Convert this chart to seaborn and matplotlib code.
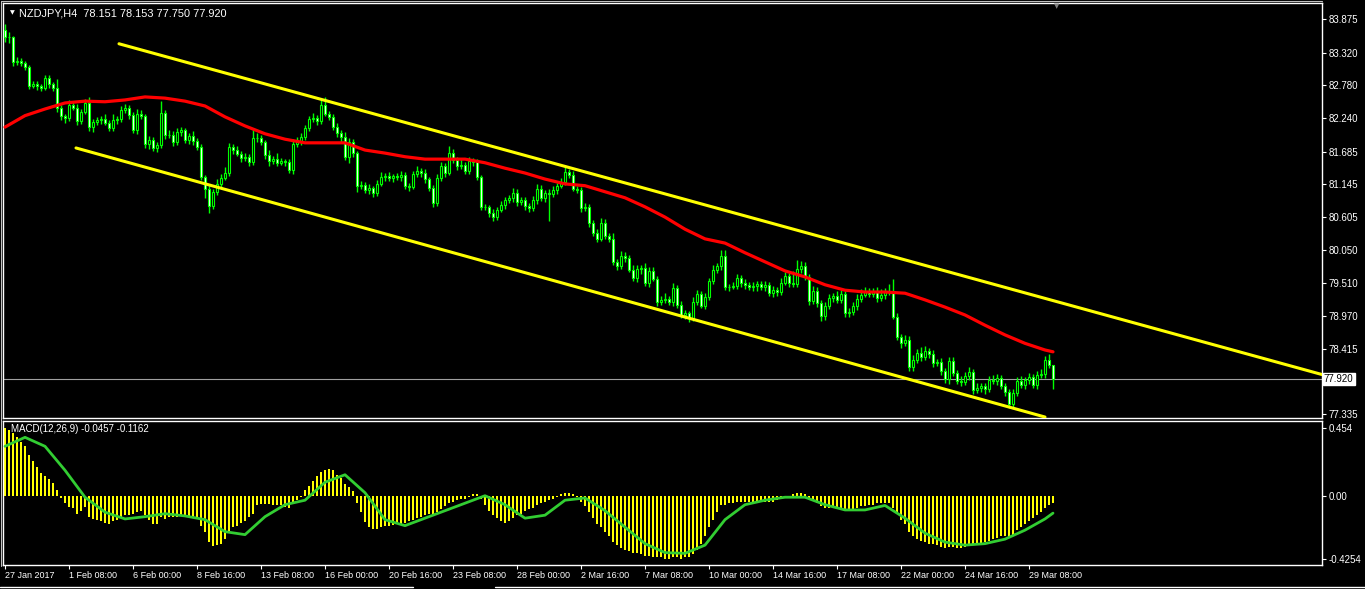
import matplotlib
matplotlib.use("Agg")
import matplotlib.pyplot as plt
import matplotlib.transforms as mtransforms
from matplotlib.lines import Line2D
import numpy as np
import pandas as pd
import seaborn as sns

# NZDJPY H4 closes, bar 0 = 27 Jan 2017 16:00
first_open = 83.70
closes = [
    83.58, 83.58, 83.17, 83.19, 83.15, 83.09, 82.77, 82.80, 82.77, 82.74,
    82.90, 82.80, 82.74, 82.41, 82.27, 82.24, 82.46, 82.41, 82.19, 82.34,
    82.49, 82.09, 82.18, 82.21, 82.22, 82.16, 82.08, 82.21, 82.22, 82.37,
    82.41, 82.29, 82.04, 82.31, 82.27, 81.81, 81.88, 81.74, 81.79, 82.32,
    81.96, 81.96, 81.84, 82.01, 82.04, 81.88, 81.94, 81.86, 81.76, 81.26,
    81.07, 80.79, 81.02, 81.15, 81.25, 81.33, 81.76, 81.71, 81.65, 81.58,
    81.60, 81.51, 81.91, 81.91, 81.84, 81.63, 81.53, 81.56, 81.50, 81.53,
    81.51, 81.38, 81.81, 81.84, 81.93, 82.08, 82.22, 82.24, 82.19, 82.46,
    82.31, 82.26, 82.09, 81.99, 81.93, 81.60, 81.84, 81.66, 81.12, 81.13,
    81.05, 81.08, 81.00, 81.15, 81.26, 81.28, 81.25, 81.28, 81.26, 81.30,
    81.12, 81.10, 81.31, 81.36, 81.33, 81.23, 81.08, 80.83, 81.25, 81.45,
    81.33, 81.66, 81.55, 81.45, 81.46, 81.36, 81.53, 81.51, 81.26, 80.77,
    80.76, 80.67, 80.60, 80.72, 80.80, 80.88, 80.92, 81.00, 80.85, 80.88,
    80.78, 80.75, 80.88, 81.07, 80.92, 81.00, 80.98, 81.05, 81.12, 81.18,
    81.35, 81.30, 81.07, 81.05, 80.75, 80.77, 80.50, 80.34, 80.24, 80.50,
    80.29, 80.24, 79.86, 79.79, 79.96, 79.92, 79.73, 79.59, 79.74, 79.76,
    79.51, 79.71, 79.58, 79.20, 79.23, 79.25, 79.20, 79.43, 79.15, 78.98,
    79.01, 78.93, 79.20, 79.33, 79.13, 79.28, 79.54, 79.73, 79.79, 79.96,
    79.44, 79.45, 79.46, 79.59, 79.51, 79.48, 79.44, 79.46, 79.49, 79.44,
    79.48, 79.34, 79.39, 79.36, 79.51, 79.63, 79.51, 79.49, 79.74, 79.79,
    79.61, 79.21, 79.38, 79.18, 78.96, 79.13, 79.26, 79.30, 79.23, 79.33,
    79.01, 79.03, 79.13, 79.25, 79.31, 79.36, 79.33, 79.36, 79.26, 79.31,
    79.36, 79.38, 78.95, 78.62, 78.52, 78.57, 78.12, 78.23, 78.35, 78.28,
    78.38, 78.33, 78.18, 78.20, 78.05, 77.92, 78.22, 78.02, 77.89, 77.87,
    77.97, 78.04, 77.74, 77.77, 77.80, 77.75, 77.90, 77.89, 77.94, 77.80,
    77.70, 77.51, 77.69, 77.89, 77.82, 77.90, 77.95, 77.82, 77.99, 78.00,
    78.23, 78.15, 77.92,
]
# upper / lower shadow lengths beyond the body
wick_up = [
    0.10, 0.08, 0.02, 0.06, 0.05, 0.04, 0.03, 0.06, 0.05, 0.04,
    0.05, 0.06, 0.04, 0.15, 0.05, 0.03, 0.08, 0.06, 0.07, 0.05,
    0.07, 0.10, 0.04, 0.05, 0.06, 0.08, 0.04, 0.10, 0.05, 0.07,
    0.06, 0.04, 0.05, 0.08, 0.06, 0.04, 0.07, 0.05, 0.06, 0.20,
    0.05, 0.08, 0.06, 0.07, 0.05, 0.04, 0.06, 0.08, 0.05, 0.05,
    0.04, 0.06, 0.05, 0.08, 0.07, 0.10, 0.06, 0.05, 0.07, 0.04,
    0.06, 0.05, 0.15, 0.08, 0.05, 0.04, 0.08, 0.06, 0.10, 0.05,
    0.04, 0.06, 0.08, 0.09, 0.07, 0.05, 0.06, 0.08, 0.05, 0.10,
    0.13, 0.05, 0.04, 0.06, 0.05, 0.08, 0.07, 0.05, 0.04, 0.06,
    0.05, 0.07, 0.04, 0.06, 0.08, 0.05, 0.06, 0.04, 0.05, 0.07,
    0.05, 0.04, 0.06, 0.08, 0.05, 0.06, 0.04, 0.05, 0.07, 0.06,
    0.05, 0.12, 0.06, 0.04, 0.10, 0.05, 0.07, 0.05, 0.06, 0.04,
    0.05, 0.04, 0.06, 0.05, 0.07, 0.06, 0.05, 0.08, 0.06, 0.05,
    0.06, 0.05, 0.07, 0.08, 0.06, 0.05, 0.06, 0.07, 0.05, 0.06,
    0.12, 0.05, 0.06, 0.04, 0.05, 0.06, 0.04, 0.05, 0.06, 0.08,
    0.07, 0.05, 0.10, 0.05, 0.08, 0.06, 0.05, 0.07, 0.06, 0.05,
    0.08, 0.06, 0.07, 0.05, 0.06, 0.09, 0.05, 0.08, 0.05, 0.06,
    0.05, 0.04, 0.08, 0.06, 0.05, 0.07, 0.06, 0.08, 0.05, 0.10,
    0.10, 0.05, 0.06, 0.07, 0.05, 0.06, 0.05, 0.07, 0.06, 0.05,
    0.06, 0.05, 0.07, 0.06, 0.08, 0.06, 0.05, 0.20, 0.15, 0.08,
    0.07, 0.05, 0.08, 0.06, 0.05, 0.07, 0.06, 0.05, 0.08, 0.07,
    0.05, 0.06, 0.07, 0.08, 0.10, 0.09, 0.07, 0.06, 0.08, 0.10,
    0.07, 0.12, 0.20, 0.06, 0.05, 0.07, 0.06, 0.08, 0.07, 0.10,
    0.08, 0.06, 0.07, 0.05, 0.06, 0.05, 0.07, 0.06, 0.05, 0.08,
    0.06, 0.08, 0.05, 0.09, 0.06, 0.05, 0.07, 0.08, 0.06, 0.05,
    0.06, 0.05, 0.07, 0.06, 0.08, 0.06, 0.07, 0.05, 0.06, 0.08,
    0.07, 0.10, 0.003,
]
wick_dn = [
    0.08, 0.10, 0.06, 0.05, 0.04, 0.06, 0.05, 0.04, 0.07, 0.05,
    0.04, 0.06, 0.05, 0.07, 0.06, 0.08, 0.05, 0.04, 0.06, 0.05,
    0.04, 0.06, 0.08, 0.05, 0.07, 0.04, 0.06, 0.05, 0.07, 0.05,
    0.04, 0.06, 0.05, 0.07, 0.05, 0.06, 0.08, 0.05, 0.07, 0.04,
    0.06, 0.05, 0.07, 0.04, 0.06, 0.05, 0.07, 0.06, 0.05, 0.04,
    0.15, 0.13, 0.06, 0.05, 0.07, 0.04, 0.05, 0.06, 0.04, 0.07,
    0.05, 0.06, 0.04, 0.07, 0.05, 0.06, 0.08, 0.05, 0.06, 0.04,
    0.06, 0.05, 0.07, 0.05, 0.04, 0.06, 0.05, 0.04, 0.06, 0.05,
    0.04, 0.06, 0.05, 0.07, 0.08, 0.06, 0.10, 0.07, 0.10, 0.06,
    0.05, 0.07, 0.06, 0.05, 0.04, 0.06, 0.05, 0.07, 0.04, 0.06,
    0.05, 0.06, 0.04, 0.05, 0.07, 0.06, 0.05, 0.06, 0.04, 0.05,
    0.06, 0.04, 0.05, 0.07, 0.06, 0.05, 0.04, 0.06, 0.05, 0.06,
    0.05, 0.06, 0.07, 0.05, 0.04, 0.06, 0.05, 0.07, 0.06, 0.05,
    0.06, 0.07, 0.05, 0.06, 0.05, 0.07, 0.45, 0.05, 0.06, 0.04,
    0.05, 0.06, 0.04, 0.05, 0.06, 0.05, 0.07, 0.05, 0.06, 0.04,
    0.05, 0.06, 0.05, 0.07, 0.05, 0.06, 0.04, 0.05, 0.06, 0.08,
    0.05, 0.06, 0.04, 0.07, 0.05, 0.06, 0.05, 0.07, 0.06, 0.05,
    0.06, 0.07, 0.05, 0.06, 0.04, 0.05, 0.06, 0.04, 0.05, 0.06,
    0.05, 0.06, 0.04, 0.05, 0.06, 0.07, 0.05, 0.06, 0.08, 0.05,
    0.06, 0.05, 0.07, 0.06, 0.05, 0.04, 0.06, 0.05, 0.04, 0.06,
    0.05, 0.06, 0.05, 0.07, 0.08, 0.06, 0.05, 0.07, 0.06, 0.05,
    0.06, 0.07, 0.05, 0.06, 0.05, 0.04, 0.06, 0.05, 0.07, 0.05,
    0.06, 0.05, 0.04, 0.06, 0.08, 0.05, 0.06, 0.07, 0.05, 0.06,
    0.05, 0.07, 0.06, 0.05, 0.07, 0.06, 0.08, 0.05, 0.06, 0.07,
    0.05, 0.06, 0.07, 0.05, 0.06, 0.08, 0.05, 0.06, 0.07, 0.05,
    0.06, 0.07, 0.05, 0.06, 0.05, 0.07, 0.06, 0.05, 0.07, 0.05,
    0.06, 0.05, 0.17,
]

# red moving average, read every 5 bars
ma_bars = [0, 5, 10, 15, 20, 25, 30, 35, 40, 45, 50, 55, 60, 65, 70, 75, 80, 85,
           90, 95, 100, 105, 110, 115, 120, 125, 130, 135, 140, 145, 150, 155,
           160, 165, 170, 175, 180, 185, 190, 195, 200, 205, 210, 215, 220, 225,
           230, 235, 240, 245, 250, 255, 260, 262]
ma_vals = [82.09, 82.28, 82.39, 82.49, 82.52, 82.51, 82.54, 82.59, 82.57, 82.52,
           82.44, 82.26, 82.11, 81.98, 81.89, 81.83, 81.83, 81.83, 81.71, 81.66,
           81.60, 81.56, 81.56, 81.56, 81.50, 81.41, 81.33, 81.23, 81.15, 81.12,
           81.02, 80.92, 80.77, 80.60, 80.40, 80.24, 80.17, 80.01, 79.86, 79.71,
           79.61, 79.48, 79.39, 79.36, 79.36, 79.34, 79.23, 79.11, 78.98, 78.81,
           78.65, 78.51, 78.40, 78.37]

# channel lines (bar, price)
upper_bars = [28.5, 330.0]
upper_prices = [83.47, 77.98]
lower_bars = [17.75, 260.0]
lower_prices = [81.745, 77.29]

macd_hist = [
    0.452, 0.44, 0.42, 0.39, 0.36, 0.33, 0.27, 0.23, 0.19, 0.15,
    0.13, 0.11, 0.085, 0.038, -0.017, -0.05, -0.073, -0.085, -0.122, -0.10,
    -0.073, -0.14, -0.155, -0.165, -0.17, -0.18, -0.19, -0.17, -0.165, -0.145,
    -0.13, -0.13, -0.12, -0.11, -0.10, -0.13, -0.165, -0.19, -0.19, -0.145,
    -0.155, -0.145, -0.145, -0.145, -0.13, -0.145, -0.145, -0.145, -0.155, -0.20,
    -0.245, -0.31, -0.335, -0.33, -0.32, -0.29, -0.235, -0.21, -0.20, -0.18,
    -0.17, -0.145, -0.12, -0.065, -0.055, -0.055, -0.055, -0.06, -0.065, -0.065,
    -0.075, -0.085, -0.055, -0.03, -0.01, 0.035, 0.065, 0.10, 0.135, 0.16,
    0.175, 0.18, 0.17, 0.14, 0.12, 0.08, 0.055, 0.03, -0.05, -0.11,
    -0.175, -0.21, -0.22, -0.22, -0.21, -0.20, -0.20, -0.195, -0.19, -0.19,
    -0.18, -0.17, -0.16, -0.15, -0.14, -0.13, -0.12, -0.12, -0.11, -0.09,
    -0.07, -0.05, -0.04, -0.03, -0.02, -0.02, -0.01, 0.01, 0.01, -0.02,
    -0.06, -0.10, -0.13, -0.15, -0.17, -0.18, -0.17, -0.15, -0.13, -0.12,
    -0.10, -0.09, -0.08, -0.06, -0.05, -0.04, -0.03, -0.02, -0.01, 0.01,
    0.02, 0.02, 0.01, -0.01, -0.04, -0.07, -0.11, -0.15, -0.19, -0.21,
    -0.24, -0.27, -0.31, -0.33, -0.35, -0.36, -0.37, -0.38, -0.38, -0.39,
    -0.40, -0.40, -0.41, -0.41, -0.41, -0.42, -0.42, -0.41, -0.41, -0.42,
    -0.41, -0.41, -0.39, -0.36, -0.32, -0.27, -0.21, -0.16, -0.11, -0.06,
    -0.06, -0.05, -0.05, -0.04, -0.04, -0.04, -0.04, -0.04, -0.04, -0.04,
    -0.04, -0.04, -0.04, -0.03, -0.02, -0.01, -0.01, 0.01, 0.02, 0.02,
    0.01, -0.02, -0.03, -0.05, -0.07, -0.08, -0.08, -0.08, -0.08, -0.08,
    -0.09, -0.09, -0.09, -0.08, -0.07, -0.07, -0.06, -0.06, -0.05, -0.05,
    -0.05, -0.05, -0.08, -0.12, -0.16, -0.19, -0.24, -0.27, -0.29, -0.30,
    -0.31, -0.32, -0.32, -0.33, -0.34, -0.35, -0.34, -0.34, -0.35, -0.35,
    -0.34, -0.33, -0.33, -0.33, -0.32, -0.31, -0.30, -0.29, -0.28, -0.27,
    -0.27, -0.28, -0.26, -0.23, -0.21, -0.19, -0.17, -0.15, -0.13, -0.11,
    -0.08, -0.06, -0.0457,
]
signal_bars = ma_bars
signal_vals = [0.33, 0.39, 0.33, 0.17, -0.01, -0.11, -0.155, -0.14, -0.12, -0.135,
               -0.16, -0.24, -0.26, -0.14, -0.06, -0.03, 0.09, 0.14, 0.02, -0.16,
               -0.20, -0.15, -0.10, -0.05, 0.00, -0.06, -0.15, -0.13, -0.03, -0.015,
               -0.10, -0.21, -0.32, -0.38, -0.385, -0.33, -0.16, -0.06, -0.03, -0.01,
               -0.01, -0.06, -0.095, -0.095, -0.065, -0.15, -0.25, -0.31, -0.33, -0.32,
               -0.29, -0.23, -0.155, -0.1162]

price_ticks = [83.875, 83.320, 82.780, 82.240, 81.685, 81.145, 80.605,
               80.050, 79.510, 78.970, 78.415, 77.335]
macd_ticks = [0.454, 0.0, -0.4254]
macd_tick_labels = ["0.454", "0.00", "-0.4254"]
date_bars = [0, 16, 32, 48, 64, 80, 96, 112, 128, 144, 160, 176, 192, 208,
             224, 240, 256]
date_labels = ["27 Jan 2017", "1 Feb 08:00", "6 Feb 00:00", "8 Feb 16:00",
               "13 Feb 08:00", "16 Feb 00:00", "20 Feb 16:00", "23 Feb 08:00",
               "28 Feb 00:00", "2 Mar 16:00", "7 Mar 08:00", "10 Mar 00:00",
               "14 Mar 16:00", "17 Mar 08:00", "22 Mar 00:00", "24 Mar 16:00",
               "29 Mar 08:00"]
last_price = 77.920

assert len(closes) == len(wick_up) == len(wick_dn) == len(macd_hist) == 263

sns.set_theme(style="dark")
plt.rcParams["font.family"] = ["Liberation Sans", "DejaVu Sans"]

W, H = 1365, 589
fig = plt.figure(figsize=(W / 100, H / 100), dpi=100, facecolor="black")


def box(x0, y0, x1, y1):
    return [x0 / W, 1 - y1 / H, (x1 - x0) / W, (y1 - y0) / H]


ax = fig.add_axes(box(3, 3, 1322, 418))
axm = fig.add_axes(box(3, 421, 1322, 565))

df = pd.DataFrame({"close": closes, "wu": wick_up, "wd": wick_dn})
df["bar"] = np.arange(len(df))
df["open"] = [first_open] + closes[:-1]
df["top"] = df[["open", "close"]].max(axis=1)
df["bot"] = df[["open", "close"]].min(axis=1)
df["high"] = df["top"] + df["wu"]
df["low"] = df["bot"] - df["wd"]

lime = "#00FF00"
for a in (ax, axm):
    a.set_facecolor("black")
    a.grid(False)
    for s in a.spines.values():
        s.set_color("white")
        s.set_linewidth(1)
    a.set_xlim(-0.5, 329.25)

# candles
ax.vlines(df["bar"], df["low"], df["high"], color=lime, lw=1, zorder=2)
fills = np.where(df["close"] < df["open"], "white", "black")
ax.bar(df["bar"], np.maximum(df["top"] - df["bot"], 0.004), bottom=df["bot"],
       width=0.6, color=fills, edgecolor=lime, linewidth=0.8, zorder=3)

sns.lineplot(x=ma_bars, y=ma_vals, ax=ax, color="#FF0000", lw=2.3, zorder=4)
sns.lineplot(x=upper_bars, y=upper_prices, ax=ax, color="#FFFF00", lw=2.2, zorder=4)
sns.lineplot(x=lower_bars, y=lower_prices, ax=ax, color="#FFFF00", lw=2.2, zorder=4)
ax.axhline(last_price, color="#A0A0A0", lw=0.8, zorder=1)

ax.set_ylim(77.274, 84.145)
ax.yaxis.tick_right()
ax.set_yticks(price_ticks)
ax.set_yticklabels([f"{v:.3f}" for v in price_ticks])
ax.tick_params(axis="y", colors="white", labelcolor="white", length=3, width=0.8,
               labelsize=7, pad=1.5, right=True, left=False)
ax.tick_params(axis="x", bottom=False, labelbottom=False)
ax.set_xlabel("")
ax.set_ylabel("")

trans = mtransforms.blended_transform_factory(ax.transAxes, ax.transData)
ax.text(1.0015, last_price, "77.920", transform=trans, color="black", fontsize=7,
        va="center", ha="left",
        bbox=dict(boxstyle="square,pad=0.15", fc="white", ec="white"))

# MACD panel
axm.bar(df["bar"], macd_hist, width=0.55, color="#FFFF00", edgecolor="none",
        linewidth=0, zorder=2)
sns.lineplot(x=signal_bars, y=signal_vals, ax=axm, color="#32CD32", lw=2, zorder=3)
axm.set_ylim(-0.4627, 0.499)
axm.yaxis.tick_right()
axm.set_yticks(macd_ticks)
axm.set_yticklabels(macd_tick_labels)
axm.tick_params(axis="y", colors="white", labelcolor="white", length=3, width=0.8,
                labelsize=7, pad=1.5, right=True, left=False)
axm.set_xticks(date_bars)
axm.set_xticklabels(date_labels)
axm.tick_params(axis="x", colors="white", labelcolor="white", length=3, width=0.8,
                labelsize=6.5, pad=1.5, bottom=True)
for lab in axm.get_xticklabels():
    lab.set_ha("left")
axm.set_xlabel("")
axm.set_ylabel("")
axm.text(8 / 1319, 1 - 8 / 144, "MACD(12,26,9) -0.0457 -0.1162", transform=axm.transAxes,
         color="white", fontsize=7, va="center", ha="left")

# header and window frame
fig.text(10 / W, 1 - 13 / H, "\u25BC", color="white", fontsize=4.5, va="center",
         family=["DejaVu Sans"])
fig.text(19 / W, 1 - 13 / H, "NZDJPY,H4  78.151 78.153 77.750 77.920", color="white",
         fontsize=7.9, va="center", ha="left")
fig.text(1057 / W, 1 - 6 / H, "\u25BC", color="#808080", fontsize=5, va="center",
         ha="center", family=["DejaVu Sans"])
fig.add_artist(Line2D([1 / W, 1 / W], [1 - 1 / H, 1 - 566 / H], color="#C0C0C0", lw=0.8))
fig.add_artist(Line2D([1 / W, 1322 / W], [1 - 1 / H, 1 - 1 / H], color="#C0C0C0", lw=0.8))
fig.add_artist(Line2D([0, 413 / W], [1 - 587 / H] * 2, color="white", lw=1))
fig.add_artist(Line2D([495 / W, 1], [1 - 587 / H] * 2, color="white", lw=1))

fig.savefig("out.png", dpi=100, facecolor="black")
